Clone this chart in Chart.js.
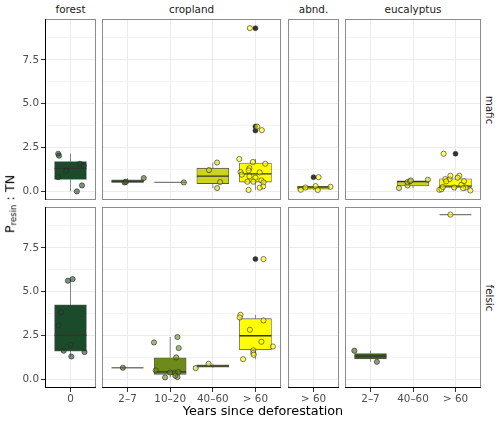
<!DOCTYPE html>
<html>
<head>
<meta charset="utf-8">
<script src="https://cdn.jsdelivr.net/npm/chart.js@4"></script>
<style>
  body { margin: 0; background: #fff; font-family: "DejaVu Sans", sans-serif; }
  #wrap { position: relative; width: 500px; height: 421px; overflow: hidden; }
  canvas { position: absolute; }
  .lab { position: absolute; white-space: nowrap; transform: translate(-50%, -50%); line-height: 1; }
  .strip { font-size: 10.4px; color: #1a1a1a; }
  .title { font-size: 12.8px; color: #000; }
</style>
</head>
<body>
<div id="wrap"></div>
<script>
// facets
const landUses = ['forest', 'cropland', 'abnd.', 'eucalyptus'];
const rockTypes = ['mafic', 'felsic'];
const ageClasses = [['0'], ['2–7', '10–20', '40–60', '> 60'], ['> 60'], ['2–7', '40–60', '> 60']];

// box statistics: [rock, land use, age, lower whisker, Q1, median, Q3, upper whisker]
const boxStats = [
  ['mafic', 'forest', '0', 0.02, 0.70, 1.33, 1.71, 2.16],
  ['mafic', 'cropland', '2–7', 0.53, 0.545, 0.56, 0.67, 0.78],
  ['mafic', 'cropland', '10–20', 0.53, 0.53, 0.53, 0.53, 0.53],
  ['mafic', 'cropland', '40–60', 0.21, 0.465, 0.89, 1.34, 1.66],
  ['mafic', 'cropland', '> 60', 0.10, 0.55, 1.02, 1.63, 1.86],
  ['mafic', 'abnd.', '> 60', 0.10, 0.15, 0.26, 0.31, 0.32],
  ['mafic', 'eucalyptus', '40–60', 0.21, 0.33, 0.57, 0.62, 0.68],
  ['mafic', 'eucalyptus', '> 60', 0.07, 0.24, 0.32, 0.74, 0.91],
  ['felsic', 'forest', '0', 1.32, 1.63, 2.53, 4.26, 5.72],
  ['felsic', 'cropland', '2–7', 0.68, 0.68, 0.68, 0.68, 0.68],
  ['felsic', 'cropland', '10–20', 0.13, 0.30, 0.45, 1.25, 2.43],
  ['felsic', 'cropland', '40–60', 0.66, 0.72, 0.78, 0.85, 0.91],
  ['felsic', 'cropland', '> 60', 1.17, 1.70, 2.50, 3.47, 3.69],
  ['felsic', 'eucalyptus', '2–7', 1.02, 1.18, 1.34, 1.49, 1.65],
  ['felsic', 'eucalyptus', '> 60', 9.39, 9.39, 9.39, 9.39, 9.39]
];

// boxplot outliers: [rock, land use, age, value]
const outliers = [
  ['mafic', 'cropland', '> 60', 9.30],
  ['mafic', 'cropland', '> 60', 3.71],
  ['mafic', 'cropland', '> 60', 3.48],
  ['mafic', 'abnd.', '> 60', 0.83],
  ['mafic', 'eucalyptus', '> 60', 2.16],
  ['felsic', 'cropland', '> 60', 6.86]
];

const obsMaficForest = [
  ['0', 2.16, -0.29], ['0', 2.05, -0.27], ['0', 1.59, 0.22], ['0', 1.48, 0.31],
  ['0', 1.19, -0.10], ['0', 0.83, -0.29], ['0', 0.36, 0.27], ['0', 0.02, 0.15]
];
const obsMaficCropland = [
  ['2–7', 0.53, -0.07], ['2–7', 0.56, -0.04], ['2–7', 0.78, 0.38],
  ['10–20', 0.53, 0.32],
  ['40–60', 1.66, 0.10], ['40–60', 1.23, -0.09], ['40–60', 0.55, 0.17], ['40–60', 0.21, 0.10],
  ['> 60', 9.30, -0.13], ['> 60', 3.70, 0.04], ['> 60', 3.50, 0.15], ['> 60', 1.86, -0.38],
  ['> 60', 1.69, -0.06], ['> 60', 1.59, 0.23], ['> 60', 1.34, -0.14], ['> 60', 1.21, -0.16],
  ['> 60', 1.12, -0.35], ['> 60', 1.10, 0.10], ['> 60', 0.97, -0.32], ['> 60', 0.87, -0.14],
  ['> 60', 0.80, 0.00], ['> 60', 0.64, 0.14], ['> 60', 0.57, -0.19], ['> 60', 0.57, -0.05],
  ['> 60', 0.53, 0.19], ['> 60', 0.30, 0.18], ['> 60', 0.23, 0.10], ['> 60', 0.10, -0.16]
];
const obsMaficAbnd = [
  ['> 60', 0.11, -0.30], ['> 60', 0.24, -0.19], ['> 60', 0.32, 0.05],
  ['> 60', 0.10, 0.10], ['> 60', 0.28, 0.40], ['> 60', 0.83, 0.12]
];
const obsMaficEucalyptus = [
  ['40–60', 0.21, -0.33], ['40–60', 0.36, -0.13], ['40–60', 0.55, -0.13],
  ['40–60', 0.60, -0.07], ['40–60', 0.64, -0.05], ['40–60', 0.68, 0.35],
  ['> 60', 2.16, -0.28], ['> 60', 0.11, -0.38], ['> 60', 0.14, -0.33], ['> 60', 0.27, -0.30],
  ['> 60', 0.72, -0.24], ['> 60', 0.72, -0.14], ['> 60', 0.91, -0.12], ['> 60', 0.91, 0.09],
  ['> 60', 0.80, 0.05], ['> 60', 0.59, -0.22], ['> 60', 0.24, -0.03], ['> 60', 0.24, 0.24],
  ['> 60', 0.07, 0.35], ['> 60', 0.40, 0.14], ['> 60', 0.20, 0.18], ['> 60', 0.60, 0.20]
];
const obsFelsicForest = [
  ['0', 5.63, -0.06], ['0', 5.72, 0.05], ['0', 3.83, -0.22], ['0', 3.09, -0.28],
  ['0', 1.97, 0.00], ['0', 1.65, -0.16], ['0', 1.32, 0.02], ['0', 1.57, 0.33]
];
const obsFelsicCropland = [
  ['2–7', 0.68, -0.11],
  ['10–20', 2.43, 0.17], ['10–20', 2.12, -0.38], ['10–20', 1.80, 0.20], ['10–20', 1.27, 0.14],
  ['10–20', 0.53, -0.34], ['10–20', 0.13, -0.12], ['10–20', 0.41, 0.00], ['10–20', 0.38, 0.11],
  ['10–20', 0.44, 0.19], ['10–20', 0.15, 0.17], ['10–20', 0.23, 0.12],
  ['40–60', 0.66, -0.40], ['40–60', 0.91, -0.10],
  ['> 60', 3.69, -0.35], ['> 60', 3.54, -0.37], ['> 60', 3.37, 0.19], ['> 60', 2.84, -0.13],
  ['> 60', 2.16, 0.14], ['> 60', 1.89, 0.41], ['> 60', 1.67, -0.05], ['> 60', 1.52, -0.05],
  ['> 60', 1.42, -0.04], ['> 60', 1.17, -0.29], ['> 60', 6.86, 0.19]
];
const obsFelsicAbnd = [];
const obsFelsicEucalyptus = [
  ['2–7', 1.65, -0.38], ['2–7', 1.02, 0.15],
  ['> 60', 9.39, -0.12]
];

const yTicks = [0, 2.5, 5, 7.5];
const yMin = -0.47, yMax = 9.82;

// ------------------------------------------------------------------
const observations = [
  [obsMaficForest, obsMaficCropland, obsMaficAbnd, obsMaficEucalyptus],
  [obsFelsicForest, obsFelsicCropland, obsFelsicAbnd, obsFelsicEucalyptus]
];
const ageFill = { '0': '#1c4b2b', '2–7': '#3e5c1d', '10–20': '#6d8b1b', '40–60': '#ccd41c', '> 60': '#ffff00' };

function rgba(hex, a) {
  const n = parseInt(hex.slice(1), 16);
  return 'rgba(' + (n >> 16) + ',' + ((n >> 8) & 255) + ',' + (n & 255) + ',' + a + ')';
}

Chart.defaults.font.family = '"DejaVu Sans", sans-serif';

const panelFrame = {
  id: 'panelFrame',
  afterDatasetsDraw(chart, args, opts) {
    const { left, top, right, bottom } = chart.chartArea;
    const ctx = chart.ctx;
    ctx.save();
    ctx.lineWidth = 1;
    ctx.strokeStyle = '#8c8c8c';
    ctx.strokeRect(left + 0.5, top + 0.5, right - left - 1, bottom - top - 1);
    ctx.strokeStyle = '#000';
    ctx.beginPath();
    if (opts.axisLeft) { ctx.moveTo(left + 0.5, top); ctx.lineTo(left + 0.5, bottom); }
    if (opts.axisBottom) { ctx.moveTo(left, bottom - 0.5); ctx.lineTo(right, bottom - 0.5); }
    ctx.stroke();
    ctx.restore();
  }
};

const wrap = document.getElementById('wrap');
const panelLeft = [45, 102, 288, 345];
const panelWidth = [51, 179, 51, 136];
const panelTop = [19, 207];
const panelHeight = 181;
const yAxisW = 45, xAxisH = 30, M = 2;
const isMajor = v => yTicks.some(t => Math.abs(t - v) < 1e-6);

rockTypes.forEach((rock, r) => {
  landUses.forEach((land, c) => {
    const cats = ageClasses[c];
    const n = cats.length;
    const firstCol = c === 0, lastRow = r === rockTypes.length - 1;
    const padL = firstCol ? yAxisW : M, padB = lastRow ? xAxisH : M;
    const cw = panelWidth[c] + padL + M, ch = panelHeight + M + padB;

    const canvas = document.createElement('canvas');
    canvas.width = cw; canvas.height = ch;
    canvas.style.width = cw + 'px'; canvas.style.height = ch + 'px';
    canvas.style.left = (panelLeft[c] - padL) + 'px';
    canvas.style.top = (panelTop[r] - M) + 'px';
    wrap.appendChild(canvas);

    const unitPx = panelWidth[c] / (n + 0.2);
    const xOf = age => cats.indexOf(age) + 1;

    const boxes = boxStats.filter(b => b[0] === rock && b[1] === land);
    const boxData = boxes.map(b => ({ x: xOf(b[2]), y: [b[4], b[6]] }));
    const whiskerData = [], medianData = [], flatData = [];
    boxes.forEach(b => {
      const x = xOf(b[2]);
      whiskerData.push({ x, y: b[3] }, { x, y: b[4] }, { x, y: null }, { x, y: b[6] }, { x, y: b[7] }, { x, y: null });
      const target = (b[6] - b[4] < 0.005) ? flatData : medianData;
      target.push({ x: x - 0.375, y: b[5] }, { x: x + 0.375, y: b[5] }, { x, y: null });
    });
    const outData = outliers.filter(o => o[0] === rock && o[1] === land).map(o => ({ x: xOf(o[2]), y: o[3] }));
    const obs = observations[r][c];
    const obsData = obs.map(o => ({ x: xOf(o[0]) + o[2], y: o[1] }));
    const obsFill = obs.map(o => rgba(ageFill[o[0]], 0.6));

    new Chart(canvas.getContext('2d'), {
      type: 'scatter',
      data: {
        datasets: [
          { type: 'scatter', data: obsData, backgroundColor: obsFill, borderColor: 'rgba(40,40,40,0.75)',
            borderWidth: 0.8, pointRadius: 2.6, order: 0 },
          { type: 'scatter', data: outData, backgroundColor: '#333333', borderColor: '#333333',
            borderWidth: 0.5, pointRadius: 2.5, order: 1 },
          { type: 'line', data: medianData, borderColor: '#333333', borderWidth: 1.3, pointRadius: 0,
            showLine: true, spanGaps: false, order: 2 },
          { type: 'line', data: flatData, borderColor: '#7a7a7a', borderWidth: 1.3, pointRadius: 0,
            showLine: true, spanGaps: false, order: 2 },
          { type: 'bar', data: boxData, backgroundColor: boxes.map(b => ageFill[b[2]]), borderColor: '#555555',
            borderWidth: 0.8, borderSkipped: false, barThickness: unitPx * 0.75, order: 3 },
          { type: 'line', data: whiskerData, borderColor: '#6b6b6b', borderWidth: 0.8, pointRadius: 0,
            showLine: true, spanGaps: false, order: 4 }
        ]
      },
      options: {
        responsive: false,
        maintainAspectRatio: false,
        animation: false,
        events: [],
        layout: { autoPadding: false, padding: { left: firstCol ? 0 : M, right: M, top: M, bottom: lastRow ? 0 : M } },
        plugins: {
          legend: { display: false },
          tooltip: { enabled: false },
          panelFrame: { axisLeft: firstCol, axisBottom: lastRow }
        },
        scales: {
          x: {
            type: 'linear', min: 0.4, max: n + 0.6, offset: false,
            afterFit: s => { s.height = lastRow ? xAxisH : 0; s.paddingLeft = 0; s.paddingRight = 0; },
            border: { display: false },
            grid: { color: '#ebebeb', lineWidth: 1, offset: false, drawTicks: lastRow, tickLength: 4, tickColor: '#333333' },
            ticks: {
              display: lastRow, stepSize: 1, includeBounds: false, autoSkip: false, maxRotation: 0,
              padding: 1, color: '#4d4d4d', font: { size: 10.4 },
              callback: v => cats[Math.round(v) - 1] || ''
            }
          },
          y: {
            type: 'linear', min: yMin, max: yMax,
            afterFit: s => { s.width = firstCol ? yAxisW : 0; s.paddingTop = 0; s.paddingBottom = 0; },
            border: { display: false },
            grid: {
              color: ctx => isMajor(ctx.tick.value) ? '#ebebeb' : '#f3f3f3',
              lineWidth: 1, drawTicks: firstCol, tickLength: 4,
              tickColor: ctx => isMajor(ctx.tick.value) ? '#333333' : 'rgba(0,0,0,0)'
            },
            ticks: {
              display: firstCol, stepSize: 1.25, includeBounds: false, autoSkip: false,
              padding: 2, color: '#4d4d4d', font: { size: 10.4 },
              callback: v => isMajor(v) ? v.toFixed(1) : ''
            }
          }
        }
      },
      plugins: [panelFrame]
    });
  });
});

function addLabel(html, cls, x, y, rot) {
  const d = document.createElement('div');
  d.className = 'lab ' + cls;
  d.innerHTML = html;
  d.style.left = x + 'px';
  d.style.top = y + 'px';
  if (rot) d.style.transform = 'translate(-50%, -50%) rotate(' + rot + 'deg)';
  wrap.appendChild(d);
}

landUses.forEach((land, c) => addLabel(land, 'strip', panelLeft[c] + panelWidth[c] / 2, 9));
rockTypes.forEach((rock, r) => addLabel(rock, 'strip', 490, panelTop[r] + panelHeight / 2, 90));
addLabel('Years since deforestation', 'title', 263, 411);
addLabel('P<sub style="font-size:8.5px;vertical-align:-2px;">resin</sub> : TN', 'title', 11, 203.5, -90);
</script>
</body>
</html>
